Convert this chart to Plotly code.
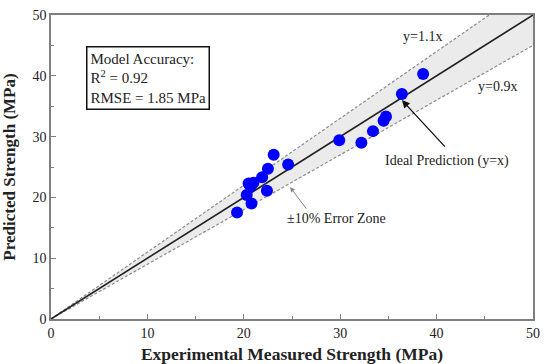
import plotly.graph_objects as go

# Data
measured = [38.6, 36.4, 34.75, 34.5, 33.4, 29.9, 32.2, 23.1, 24.6, 22.5, 21.9,
            20.5, 21.0, 20.7, 22.4, 20.3, 20.8, 19.3]
predicted = [40.3, 37.0, 33.3, 32.6, 30.9, 29.4, 29.0, 27.0, 25.4, 24.7, 23.3,
             22.3, 22.4, 21.8, 21.1, 20.4, 19.0, 17.5]
axis_max = 50
upper_factor = 1.1
lower_factor = 0.9
tick_vals = [0, 10, 20, 30, 40, 50]

FONT = "Liberation Serif"

fig = go.Figure()

# Error band polygon
x_up_end = axis_max / upper_factor
band_x = [0, axis_max, axis_max, x_up_end, 0]
band_y = [0, axis_max * lower_factor, axis_max, axis_max, 0]
fig.add_trace(go.Scatter(x=band_x, y=band_y, fill="toself", fillcolor="#ebebeb",
                         line=dict(width=0), mode="lines", hoverinfo="skip",
                         showlegend=False))
# Dashed bounds
fig.add_trace(go.Scatter(x=[0, x_up_end], y=[0, axis_max], mode="lines",
                         line=dict(color="#8c8c8c", width=1.2, dash="3px,2px"),
                         showlegend=False))
fig.add_trace(go.Scatter(x=[0, axis_max], y=[0, axis_max * lower_factor], mode="lines",
                         line=dict(color="#8c8c8c", width=1.2, dash="3px,2px"),
                         showlegend=False))
# Ideal line
fig.add_trace(go.Scatter(x=[0, axis_max], y=[0, axis_max], mode="lines",
                         line=dict(color="#222222", width=1.6), showlegend=False))
# Points
fig.add_trace(go.Scatter(x=measured, y=predicted, mode="markers",
                         marker=dict(color="#0000ff", size=12, line=dict(width=0)),
                         showlegend=False))

ann_font = dict(family=FONT, size=14, color="#222222")
fig.add_annotation(x=3.6, y=44.9, xref="x", yref="y", xanchor="left", yanchor="top",
                   text="Model Accuracy:<br>R<sup>2</sup> = 0.92<br>RMSE = 1.85 MPa",
                   showarrow=False, align="left", bordercolor="#111111", borderwidth=1.5,
                   borderpad=3, bgcolor="white", font=dict(family=FONT, size=15, color="#222222"))
fig.add_annotation(x=38.5, y=46.4, text="y=1.1x", showarrow=False, font=ann_font)
fig.add_annotation(x=46.3, y=38.2, text="y=0.9x", showarrow=False, font=ann_font)
fig.add_annotation(x=36.4, y=36.0, ax=41.0, ay=28.1, axref="x", ayref="y",
                   text="", showarrow=True, arrowhead=2, arrowsize=1.2, arrowwidth=1.3,
                   arrowcolor="#111111")
fig.add_annotation(x=41.1, y=26.0, text="Ideal Prediction (y=x)", showarrow=False,
                   font=ann_font)
fig.add_annotation(x=24.8, y=21.7, ax=26.6, ay=17.9, axref="x", ayref="y",
                   text="", showarrow=True, arrowhead=2, arrowsize=1, arrowwidth=1,
                   arrowcolor="#888888")
fig.add_annotation(x=29.6, y=16.6, text="±10% Error Zone", showarrow=False,
                   font=ann_font)

axis_common = dict(range=[0, axis_max], tickvals=tick_vals, ticks="inside", ticklen=5,
                   tickcolor="#7f7f7f", showline=True, linecolor="#7f7f7f", linewidth=1.5,
                   mirror=True, showgrid=False, zeroline=False, automargin=False,
                   tickfont=dict(family=FONT, size=14, color="#222222"),
                   minor=dict(dtick=5, ticks="inside", ticklen=3, tickcolor="#7f7f7f"))

fig.update_xaxes(**axis_common,
                 title=dict(text="<b>Experimental Measured Strength (MPa)</b>",
                            font=dict(family=FONT, size=17.5, color="#222222")))
fig.update_yaxes(**axis_common,
                 title=dict(text="<b>Predicted Strength (MPa)</b>",
                            font=dict(family=FONT, size=17, color="#222222")))

fig.update_layout(width=550, height=364, margin=dict(l=51, r=17, t=15, b=45),
                  plot_bgcolor="white", paper_bgcolor="white")

fig.write_html("out.html", config={"displayModeBar": False},
               post_script="document.body.style.margin='0';document.body.style.overflow='hidden';")
